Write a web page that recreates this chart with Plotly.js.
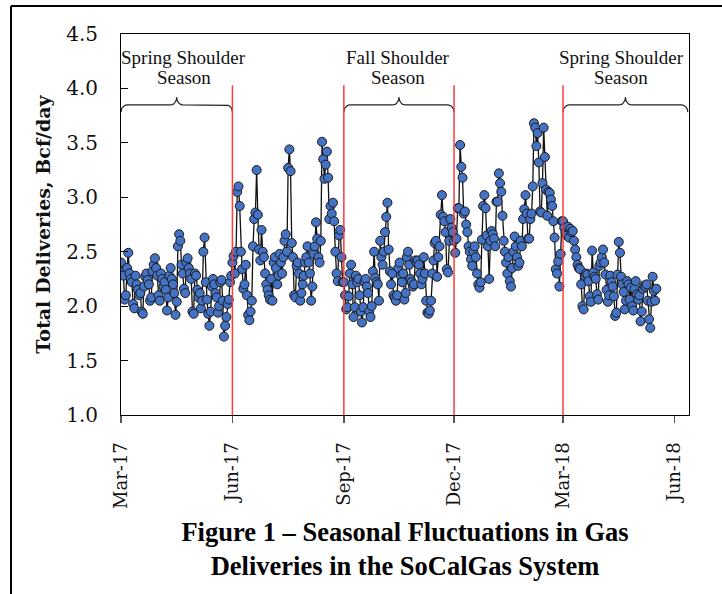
<!DOCTYPE html>
<html>
<head>
<meta charset="utf-8">
<script src="https://cdn.plot.ly/plotly-3.0.1.min.js"></script>
<style>
html,body{margin:0;padding:0;background:#fff;}
#chart{width:722px;height:594px;}
</style>
</head>
<body>
<div id="chart"></div>
<script>
// ---- Data: daily total deliveries (Bcf/day), starting 2017-03-01 ----
const startDate = '2017-03-01';
const mar17 = [2.40,2.32,2.28,2.06,2.10,2.35,2.49,2.30,2.25,2.22,2.02,1.98,2.28,2.20,2.15,2.10,2.12,1.95,1.93,2.18,2.27,2.30,2.24,2.20,2.05,2.08,2.32,2.38,2.44,2.35,2.28];
const apr17 = [2.10,2.05,2.30,2.25,2.18,2.22,2.15,1.96,2.08,2.28,2.35,2.25,2.20,2.12,1.92,2.04,2.55,2.66,2.60,2.38,2.30,2.16,2.12,2.40,2.44,2.35,2.30,2.25,1.95,1.93];
const may17 = [2.30,2.28,2.15,2.08,2.12,1.98,2.05,2.50,2.63,2.22,2.06,1.93,1.82,1.95,2.18,2.25,2.20,2.12,2.08,1.94,2.00,2.22,2.24,2.05,1.72,1.82,1.90,2.02,2.06,2.22,2.28];
const jun17 = [2.40,2.46,2.30,2.50,3.05,3.10,2.92,2.50,2.34,2.16,2.20,2.38,2.10,1.92,1.87,1.95,2.05,2.55,2.80,2.86,3.25,2.84,2.52,2.42,2.70,2.50,2.45,2.30,2.20,2.15];
const jul17 = [2.10,2.06,2.25,2.05,2.40,2.45,2.35,2.20,2.28,2.48,2.40,2.30,2.45,2.60,2.66,2.50,3.27,3.44,3.24,2.58,2.45,2.10,2.08,2.37,2.40,2.30,2.05,2.12,2.20,2.28,2.40];
const aug17 = [2.45,2.55,2.40,2.30,2.05,2.18,2.48,2.55,2.77,2.62,2.45,2.40,2.60,3.51,3.35,3.17,3.30,3.42,3.18,2.80,2.92,2.85,2.95,2.78,2.50,2.30,2.23,2.65,2.70,2.45,2.22];
const sep17 = [2.22,2.10,1.97,1.99,2.09,2.30,2.38,2.20,1.90,1.99,2.28,2.22,2.25,2.10,1.95,1.85,1.99,2.22,2.25,2.18,2.12,1.95,1.90,2.00,2.32,2.50,2.26,2.22,2.20,2.05];
const oct17 = [2.60,2.45,2.38,2.50,2.68,2.82,2.95,2.52,2.32,2.20,2.30,2.10,2.08,2.05,2.10,2.35,2.40,2.28,2.22,2.30,2.06,2.12,2.45,2.50,2.38,2.25,2.22,2.18,2.20,2.42,2.40];
const nov17 = [2.42,2.38,2.30,2.20,2.25,2.45,2.30,2.05,1.94,1.93,1.96,2.05,2.30,2.42,2.58,2.60,2.27,2.45,2.55,2.84,3.02,2.82,2.78,2.68,2.34,2.31,2.60,2.80,2.72,2.68];
const dec17 = [2.60,2.49,2.62,2.90,2.90,3.48,3.28,3.18,2.85,2.87,2.75,2.68,2.55,2.50,2.43,2.37,2.50,2.55,2.45,2.30,2.20,2.17,2.22,2.61,2.92,3.02,2.90,2.65,2.55,2.25,2.60];
const jan18 = [2.69,2.66,2.62,2.55,2.96,2.96,3.22,3.13,3.05,2.83,2.60,2.50,2.40,2.30,2.45,2.23,2.18,2.35,2.50,2.64,2.55,2.45,2.37,2.40,2.60,2.55,2.80,2.89,3.02,2.85,2.62];
const feb18 = [2.62,2.80,2.85,3.10,3.68,3.64,3.47,3.59,3.32,2.87,2.86,3.13,3.64,3.37,3.07,2.83,3.05,3.04,2.98,2.92,2.78,2.63,2.34,2.30,2.41,2.18,2.48,2.78];
const mar18 = [2.78,2.72,2.68,2.65,2.73,2.63,2.71,2.68,2.69,2.60,2.52,2.45,2.38,2.35,2.34,2.20,2.00,1.97,2.28,2.30,2.29,2.23,2.09,2.04,2.51,2.31,2.27,2.25,2.11,2.06,2.37];
const apr18 = [2.40,2.45,2.52,2.40,2.29,2.15,2.04,2.10,2.28,2.22,2.18,2.09,1.91,1.94,2.29,2.59,2.49,2.27,2.20,2.13,1.97,2.05,2.23,2.20,2.06,2.17,2.00,1.96,2.16,2.23];
const may18 = [2.11,2.06,2.10,1.86,1.95,2.16,2.19,2.18,2.20,2.05,1.88,1.80,2.04,2.27,2.14,2.05,2.16];

// Axis ticks
const tickDates = ['2017-03-01','2017-06-01','2017-09-01','2017-12-01','2018-03-01','2018-06-01'];
const tickLabels = ['Mar-17','Jun-17','Sep-17','Dec-17','Mar-18','Jun-18'];
// Season boundaries (red lines) and shoulder-season braces
const seasonLines = ['2017-06-01','2017-09-01','2017-12-01','2018-03-01'];
const braceStarts = ['2017-03-01','2017-09-01','2018-03-01'];
const braceEnds   = ['2017-06-01','2017-12-01','2018-06-12'];
const braceLabel1 = ['Spring Shoulder','Fall Shoulder','Spring Shoulder'];
const braceLabel2 = ['Season','Season','Season'];
const labelDates  = ['2017-04-22','2017-10-16','2018-04-18'];

// ---- Build series ----
const values = [].concat(mar17,apr17,may17,jun17,jul17,aug17,sep17,oct17,nov17,dec17,jan18,feb18,mar18,apr18,may18);
const DAY = 86400000;
const t0 = Date.parse(startDate + 'T00:00:00Z');
function fmt(ms){ return new Date(ms).toISOString().slice(0,10); }
const dates = values.map((v,i) => fmt(t0 + i*DAY));

const traces = [{
  x: dates, y: values, type: 'scatter', mode: 'lines+markers',
  line: {color: '#111', width: 1.3},
  marker: {size: 9, color: '#4472C4', line: {color: '#1a1a1a', width: 1}},
  hoverinfo: 'x+y', showlegend: false
}];

// braces (decoration)
const yEnd = 3.783, yFlat = 3.848, yPeak = 3.921, r = 5*DAY;
function fmtT(ms){ return new Date(ms).toISOString().slice(0,19).replace('T',' '); }
braceStarts.forEach((s,k) => {
  const a = Date.parse(s+'T00:00:00Z'), b = Date.parse(braceEnds[k]+'T00:00:00Z');
  const mid = (a+b)/2;
  const bx = [], by = [];
  const N = 10;
  for (let i=0;i<=N;i++){ const th = Math.PI - (Math.PI/2)*i/N; bx.push(a + r + r*Math.cos(th)); by.push(yEnd + (yFlat-yEnd)*Math.sin(th)); }
  for (let i=0;i<=N;i++){ const ph = (Math.PI/2)*i/N; bx.push(mid - r + r*Math.sin(ph)); by.push(yFlat + (yPeak-yFlat)*(1-Math.cos(ph))); }
  for (let i=0;i<=N;i++){ const ph = (Math.PI/2)*(N-i)/N; bx.push(mid + r - r*Math.sin(ph)); by.push(yFlat + (yPeak-yFlat)*(1-Math.cos(ph))); }
  for (let i=0;i<=N;i++){ const th = (Math.PI/2)*(N-i)/N; bx.push(b - r + r*Math.cos(th)); by.push(yEnd + (yFlat-yEnd)*Math.sin(th)); }
  traces.push({x: bx.map(fmtT), y: by, type:'scatter', mode:'lines', line:{color:'#222', width:1.2}, hoverinfo:'skip', showlegend:false, cliponaxis:false});
});

const W = 722, H = 594, M = {l:121, r:33, t:34, b:179};
const pw = W - M.l - M.r, ph = H - M.t - M.b;
const px2x = px => (px - M.l)/pw;
const py2y = py => (H - M.b - py)/ph;

const shapes = seasonLines.map(d => ({
  type:'line', xref:'x', yref:'y', x0:d, x1:d, y0:1.0, y1:4.03,
  line:{color:'#ff3b3b', width:1.5}, layer:'above'
}));
// outer frame (top and left edges)
shapes.push({type:'line', xref:'paper', yref:'paper', x0:px2x(11), x1:px2x(722), y0:py2y(6), y1:py2y(6), line:{color:'#000', width:2}});
shapes.push({type:'line', xref:'paper', yref:'paper', x0:px2x(11), x1:px2x(11), y0:py2y(6), y1:py2y(594), line:{color:'#000', width:2}});

const annFont = {family:'Liberation Serif, serif', size:19, color:'#111'};
const annotations = [];
labelDates.forEach((d,k) => {
  annotations.push({x:d, y:4.280, xref:'x', yref:'y', text:braceLabel1[k], showarrow:false, font:annFont, xanchor:'center', yanchor:'middle'});
  annotations.push({x:d, y:4.096, xref:'x', yref:'y', text:braceLabel2[k], showarrow:false, font:annFont, xanchor:'center', yanchor:'middle'});
});

const layout = {
  width: W, height: H,
  margin: {l:M.l, r:M.r, t:M.t, b:M.b, pad:0},
  paper_bgcolor:'#fff', plot_bgcolor:'#fff',
  showlegend:false,
  title: {
    text: '<b>Figure 1 – Seasonal Fluctuations in Gas<br>Deliveries in the SoCalGas System</b>',
    font: {family:'Liberation Serif, serif', size:26.5, color:'#000'},
    x:0.5, xref:'paper', xanchor:'center', y: 1 - 541/594, yref:'container', yanchor:'middle'
  },
  xaxis: {
    type:'date', range:['2017-03-01','2018-06-13'],
    tickmode:'array', tickvals:tickDates, ticktext:tickLabels, tickangle:-90,
    ticks:'outside', ticklen:7, tickcolor:'#555', tickwidth:1.5,
    ticklabelstandoff: 12,
    showline:true, linecolor:'#000', linewidth:1, mirror:true,
    showgrid:false, zeroline:false, tickfont:{family:'DejaVu Serif, serif', size:18, color:'#111'}
  },
  yaxis: {
    range:[1,4.5], tickmode:'linear', tick0:1, dtick:0.5, tickformat:'.1f',
    ticks:'inside', ticklen:7, tickcolor:'#000', tickwidth:1,
    ticklabelstandoff: 18,
    showline:true, linecolor:'#000', linewidth:1, mirror:true,
    showgrid:false, zeroline:false, tickfont:{family:'DejaVu Serif, serif', size:20, color:'#111'},
    title:{text:'<b>Total Deliveries, Bcf/day</b>', font:{family:'DejaVu Serif, serif', size:19, color:'#111'}, standoff:10}
  },
  shapes: shapes,
  annotations: annotations
};

Plotly.newPlot('chart', traces, layout, {displayModeBar:false, staticPlot:true});
</script>
</body>
</html>
